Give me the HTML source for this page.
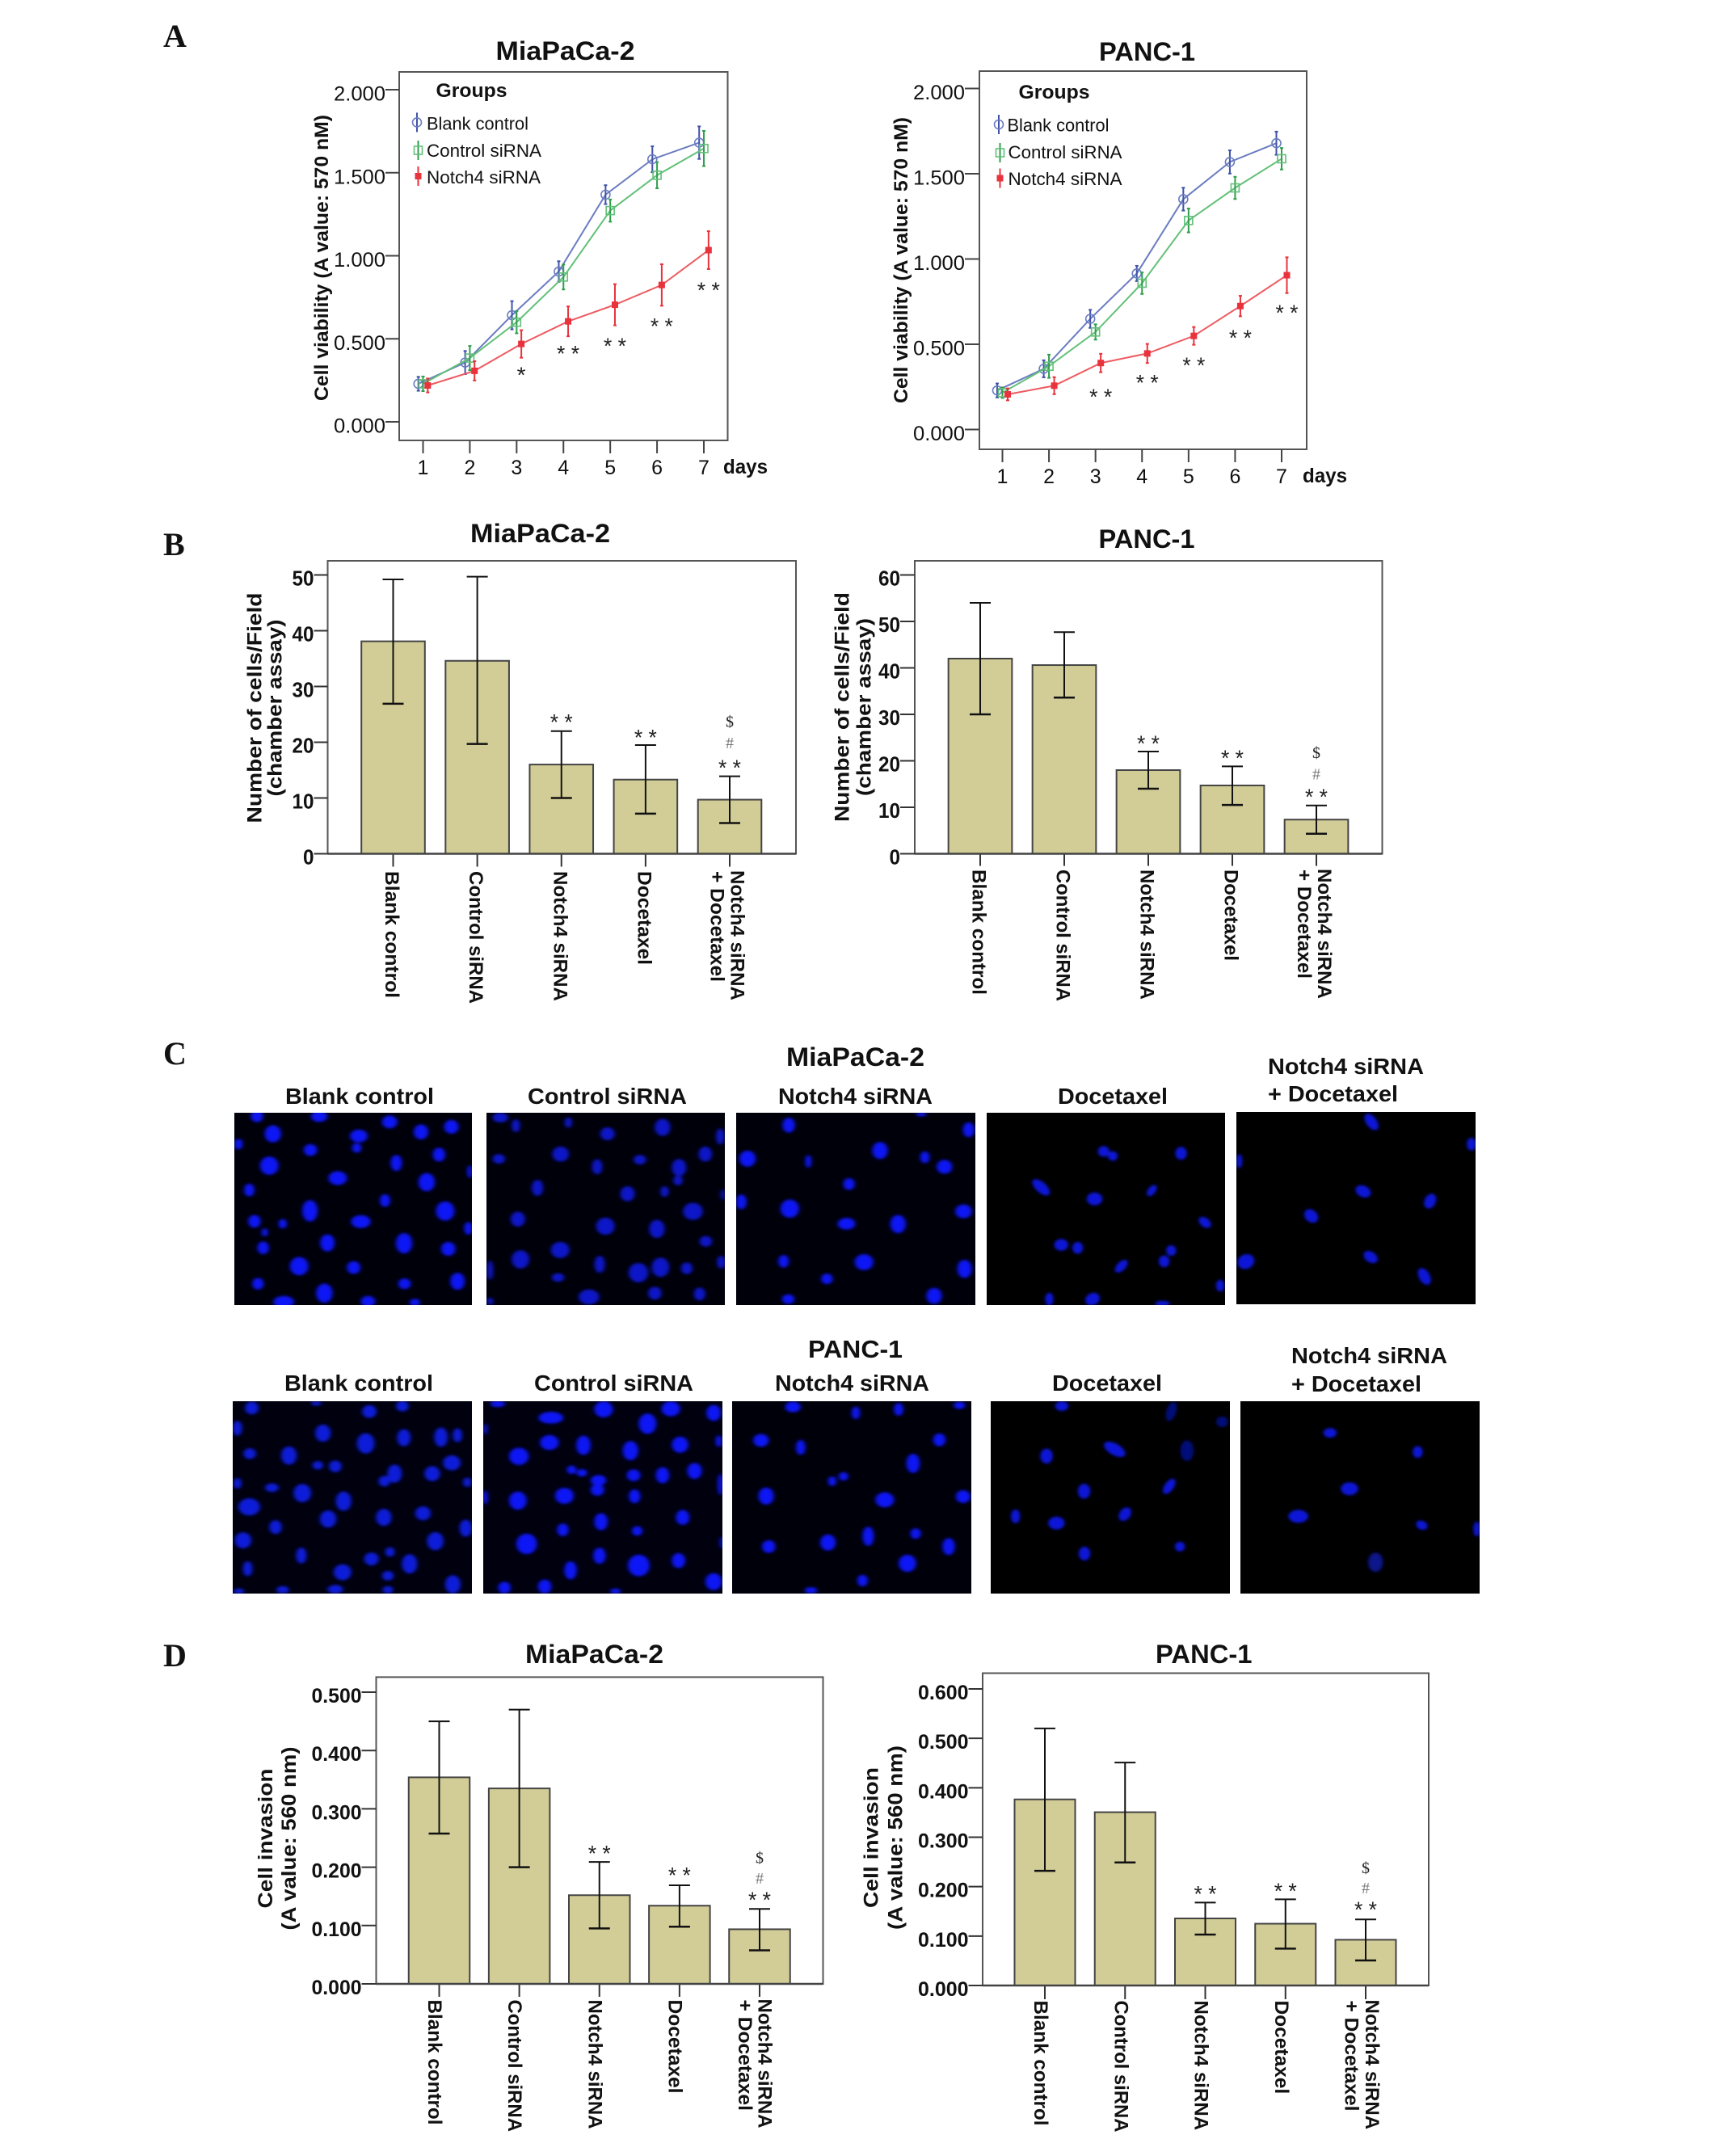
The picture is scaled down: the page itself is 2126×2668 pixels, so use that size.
<!DOCTYPE html>
<html>
<head>
<meta charset="utf-8">
<title>Notch4 siRNA figure</title>
<style>
html,body{margin:0;padding:0;background:#fff;}
svg{display:block;}
text{font-family:"Liberation Sans",sans-serif;fill:#111;}
</style>
</head>
<body>
<svg id="figure" xmlns="http://www.w3.org/2000/svg" width="2126" height="2668" viewBox="0 0 2126 2668">
<defs>
<filter id="b" x="-30%" y="-30%" width="160%" height="160%"><feGaussianBlur stdDeviation="4 5"/></filter>
</defs>
<rect width="2126" height="2668" fill="#fff"/>
<g id="panelC" font-weight="700">
<text x="202" y="1317" font-size="40" style="font-family:'Liberation Serif',serif;font-weight:700">C</text>
<text x="973" y="1319" font-size="32" textLength="171" lengthAdjust="spacingAndGlyphs">MiaPaCa-2</text>
<text x="353" y="1366" font-size="28" textLength="184" lengthAdjust="spacingAndGlyphs">Blank control</text>
<text x="653" y="1366" font-size="28" textLength="197" lengthAdjust="spacingAndGlyphs">Control siRNA</text>
<text x="963" y="1366" font-size="28" textLength="191" lengthAdjust="spacingAndGlyphs">Notch4 siRNA</text>
<text x="1309" y="1366" font-size="28" textLength="136" lengthAdjust="spacingAndGlyphs">Docetaxel</text>
<text x="1569" y="1329" font-size="28" textLength="193" lengthAdjust="spacingAndGlyphs">Notch4 siRNA</text>
<text x="1569" y="1363" font-size="28" textLength="161" lengthAdjust="spacingAndGlyphs">+ Docetaxel</text>
<text x="1000" y="1680" font-size="31" textLength="117" lengthAdjust="spacingAndGlyphs">PANC-1</text>
<text x="352" y="1721" font-size="28" textLength="184" lengthAdjust="spacingAndGlyphs">Blank control</text>
<text x="661" y="1721" font-size="28" textLength="197" lengthAdjust="spacingAndGlyphs">Control siRNA</text>
<text x="959" y="1721" font-size="28" textLength="191" lengthAdjust="spacingAndGlyphs">Notch4 siRNA</text>
<text x="1302" y="1721" font-size="28" textLength="136" lengthAdjust="spacingAndGlyphs">Docetaxel</text>
<text x="1598" y="1687" font-size="28" textLength="193" lengthAdjust="spacingAndGlyphs">Notch4 siRNA</text>
<text x="1598" y="1722" font-size="28" textLength="161" lengthAdjust="spacingAndGlyphs">+ Docetaxel</text>

<svg x="290" y="1377" width="294" height="238" viewBox="172 292 462 712" preserveAspectRatio="none"><rect x="172" y="292" width="462" height="712" fill="#00000a"/><g fill="#0a16f5" filter="url(#b)">
<ellipse cx="216" cy="305" rx="12" ry="22"/><ellipse cx="337" cy="306" rx="16" ry="20"/><ellipse cx="474" cy="326" rx="15" ry="24"/><ellipse cx="535" cy="363" rx="14" ry="28"/><ellipse cx="594" cy="344" rx="14" ry="26"/><ellipse cx="247" cy="370" rx="16" ry="32"/><ellipse cx="414" cy="378" rx="17" ry="24"/><ellipse cx="180" cy="408" rx="8" ry="20"/><ellipse cx="410" cy="422" rx="9" ry="18"/><ellipse cx="320" cy="430" rx="13" ry="22"/><ellipse cx="570" cy="447" rx="12" ry="26"/><ellipse cx="240" cy="488" rx="18" ry="34"/><ellipse cx="487" cy="478" rx="11" ry="30"/><ellipse cx="630" cy="510" rx="5" ry="24"/><ellipse cx="373" cy="534" rx="18" ry="26"/><ellipse cx="546" cy="549" rx="16" ry="34"/><ellipse cx="201" cy="578" rx="10" ry="24"/><ellipse cx="465" cy="617" rx="10" ry="24"/><ellipse cx="319" cy="655" rx="15" ry="40"/><ellipse cx="582" cy="656" rx="18" ry="36"/><ellipse cx="211" cy="694" rx="12" ry="24"/><ellipse cx="266" cy="703" rx="8" ry="18"/><ellipse cx="418" cy="695" rx="19" ry="24"/><ellipse cx="627" cy="720" rx="8" ry="24"/><ellipse cx="231" cy="735" rx="6" ry="16"/><ellipse cx="353" cy="774" rx="14" ry="32"/><ellipse cx="502" cy="775" rx="16" ry="38"/><ellipse cx="588" cy="796" rx="14" ry="26"/><ellipse cx="228" cy="792" rx="11" ry="24"/><ellipse cx="298" cy="860" rx="18" ry="34"/><ellipse cx="404" cy="865" rx="13" ry="24"/><ellipse cx="218" cy="925" rx="11" ry="22"/><ellipse cx="347" cy="960" rx="16" ry="36"/><ellipse cx="503" cy="925" rx="12" ry="20"/><ellipse cx="606" cy="916" rx="14" ry="32"/><ellipse cx="268" cy="992" rx="20" ry="22"/><ellipse cx="432" cy="990" rx="14" ry="20"/><ellipse cx="523" cy="994" rx="10" ry="14"/>
</g></svg>

<svg x="602" y="1377" width="295" height="238" viewBox="661 292 463 712" preserveAspectRatio="none"><rect x="661" y="292" width="463" height="712" fill="#00000a"/><g fill="#0a18c8" filter="url(#b)">
<ellipse cx="688" cy="310" rx="15" ry="18"/><ellipse cx="718" cy="340" rx="8" ry="24"/><ellipse cx="820" cy="328" rx="7" ry="20"/><ellipse cx="1003" cy="346" rx="15" ry="32"/><ellipse cx="896" cy="370" rx="14" ry="24"/><ellipse cx="1115" cy="380" rx="8" ry="30"/><ellipse cx="805" cy="445" rx="16" ry="28"/><ellipse cx="685" cy="463" rx="12" ry="18"/><ellipse cx="1086" cy="445" rx="13" ry="28"/><ellipse cx="959" cy="466" rx="12" ry="18"/><ellipse cx="876" cy="492" rx="10" ry="28"/><ellipse cx="1035" cy="495" rx="14" ry="32"/><ellipse cx="1033" cy="543" rx="9" ry="18"/><ellipse cx="760" cy="570" rx="11" ry="30"/><ellipse cx="935" cy="592" rx="14" ry="28"/><ellipse cx="1007" cy="584" rx="8" ry="20"/><ellipse cx="1120" cy="595" rx="4" ry="20"/><ellipse cx="1062" cy="657" rx="19" ry="32"/><ellipse cx="722" cy="686" rx="14" ry="28"/><ellipse cx="892" cy="712" rx="18" ry="32"/><ellipse cx="992" cy="722" rx="15" ry="34"/><ellipse cx="1087" cy="768" rx="12" ry="20"/><ellipse cx="804" cy="800" rx="18" ry="30"/><ellipse cx="727" cy="835" rx="17" ry="34"/><ellipse cx="881" cy="853" rx="10" ry="32"/><ellipse cx="999" cy="864" rx="17" ry="36"/><ellipse cx="956" cy="884" rx="19" ry="36"/><ellipse cx="1050" cy="868" rx="11" ry="22"/><ellipse cx="1117" cy="845" rx="8" ry="24"/><ellipse cx="668" cy="875" rx="6" ry="36"/><ellipse cx="800" cy="902" rx="12" ry="16"/><ellipse cx="860" cy="974" rx="20" ry="28"/><ellipse cx="988" cy="960" rx="13" ry="24"/><ellipse cx="1075" cy="963" rx="11" ry="24"/><ellipse cx="668" cy="990" rx="6" ry="14"/>
</g></svg>

<svg x="911" y="1377" width="296" height="238" viewBox="1146 292 464 712" preserveAspectRatio="none"><rect x="1146" y="292" width="464" height="712" fill="#00000a"/><g fill="#0a16f5" filter="url(#b)">
<ellipse cx="1248" cy="338" rx="12" ry="28"/><ellipse cx="1505" cy="298" rx="10" ry="8"/><ellipse cx="1425" cy="432" rx="15" ry="32"/><ellipse cx="1168" cy="462" rx="16" ry="30"/><ellipse cx="1286" cy="472" rx="6" ry="24"/><ellipse cx="1512" cy="457" rx="9" ry="22"/><ellipse cx="1550" cy="492" rx="15" ry="26"/><ellipse cx="1365" cy="556" rx="11" ry="22"/><ellipse cx="1156" cy="622" rx="10" ry="28"/><ellipse cx="1250" cy="647" rx="18" ry="34"/><ellipse cx="1360" cy="703" rx="17" ry="22"/><ellipse cx="1460" cy="704" rx="15" ry="34"/><ellipse cx="1238" cy="842" rx="10" ry="24"/><ellipse cx="1394" cy="845" rx="18" ry="30"/><ellipse cx="1322" cy="907" rx="11" ry="20"/><ellipse cx="1247" cy="982" rx="12" ry="18"/><ellipse cx="1530" cy="970" rx="15" ry="30"/><ellipse cx="1597" cy="355" rx="11" ry="28"/><ellipse cx="1587" cy="657" rx="16" ry="26"/><ellipse cx="1589" cy="870" rx="14" ry="34"/>
</g></svg>

<svg x="1221" y="1377" width="295" height="238" viewBox="236 292 579 712" preserveAspectRatio="none"><rect x="236" y="292" width="579" height="712" fill="#000"/><g fill="#0a18d8" filter="url(#b)">
<ellipse cx="520" cy="435" rx="14" ry="20"/><ellipse cx="542" cy="452" rx="12" ry="18"/><ellipse cx="708" cy="442" rx="14" ry="24"/><ellipse cx="368" cy="568" rx="15" ry="34" transform="rotate(-30 368 568)"/><ellipse cx="498" cy="611" rx="19" ry="24"/><ellipse cx="637" cy="580" rx="10" ry="22" transform="rotate(20 637 580)"/><ellipse cx="766" cy="698" rx="13" ry="22" transform="rotate(-25 766 698)"/><ellipse cx="417" cy="781" rx="17" ry="22"/><ellipse cx="457" cy="792" rx="13" ry="22"/><ellipse cx="684" cy="802" rx="12" ry="20"/><ellipse cx="667" cy="842" rx="13" ry="22"/><ellipse cx="563" cy="860" rx="12" ry="26" transform="rotate(25 563 860)"/><ellipse cx="803" cy="932" rx="10" ry="22"/><ellipse cx="388" cy="982" rx="10" ry="24"/><ellipse cx="493" cy="982" rx="17" ry="24" transform="rotate(15 493 982)"/><ellipse cx="663" cy="998" rx="18" ry="10"/>
</g></svg>

<svg x="1530" y="1376" width="296" height="238" viewBox="841 288 579 712" preserveAspectRatio="none"><rect x="841" y="288" width="579" height="712" fill="#000"/><g fill="#0a18d8" filter="url(#b)">
<ellipse cx="1168" cy="325" rx="14" ry="32" transform="rotate(-20 1168 325)"/><ellipse cx="1410" cy="407" rx="11" ry="24"/><ellipse cx="848" cy="470" rx="7" ry="26"/><ellipse cx="1148" cy="582" rx="17" ry="24" transform="rotate(-25 1148 582)"/><ellipse cx="1310" cy="618" rx="14" ry="28" transform="rotate(10 1310 618)"/><ellipse cx="1022" cy="673" rx="16" ry="26" transform="rotate(-15 1022 673)"/><ellipse cx="864" cy="842" rx="20" ry="28" transform="rotate(10 864 842)"/><ellipse cx="1166" cy="825" rx="15" ry="24" transform="rotate(-25 1166 825)"/><ellipse cx="1296" cy="897" rx="14" ry="32" transform="rotate(-15 1296 897)"/>
</g></svg>

<svg x="288" y="1734" width="296" height="238" viewBox="13 222 464 712" preserveAspectRatio="none"><rect x="13" y="222" width="464" height="712" fill="#00000f"/><g fill="#0a1ad8" filter="url(#b)">
<ellipse cx="50" cy="247" rx="13" ry="24"/><ellipse cx="175" cy="230" rx="10" ry="8"/><ellipse cx="278" cy="260" rx="14" ry="24"/><ellipse cx="342" cy="240" rx="12" ry="20"/><ellipse cx="22" cy="322" rx="9" ry="28"/><ellipse cx="188" cy="340" rx="15" ry="32"/><ellipse cx="271" cy="378" rx="17" ry="38"/><ellipse cx="345" cy="357" rx="13" ry="32"/><ellipse cx="417" cy="355" rx="13" ry="36"/><ellipse cx="449" cy="348" rx="9" ry="26"/><ellipse cx="46" cy="416" rx="12" ry="20"/><ellipse cx="122" cy="423" rx="15" ry="34"/><ellipse cx="178" cy="459" rx="10" ry="16"/><ellipse cx="212" cy="463" rx="12" ry="22"/><ellipse cx="438" cy="450" rx="17" ry="28"/><ellipse cx="327" cy="490" rx="14" ry="34"/><ellipse cx="307" cy="518" rx="11" ry="20"/><ellipse cx="400" cy="490" rx="15" ry="28"/><ellipse cx="22" cy="526" rx="8" ry="20"/><ellipse cx="89" cy="542" rx="13" ry="16"/><ellipse cx="148" cy="562" rx="17" ry="34"/><ellipse cx="228" cy="592" rx="15" ry="36"/><ellipse cx="468" cy="522" rx="8" ry="18"/><ellipse cx="45" cy="613" rx="21" ry="32"/><ellipse cx="382" cy="637" rx="15" ry="26"/><ellipse cx="198" cy="658" rx="16" ry="32"/><ellipse cx="306" cy="652" rx="15" ry="32"/><ellipse cx="96" cy="688" rx="12" ry="26"/><ellipse cx="465" cy="692" rx="12" ry="32"/><ellipse cx="33" cy="737" rx="16" ry="30"/><ellipse cx="406" cy="740" rx="16" ry="34"/><ellipse cx="146" cy="793" rx="10" ry="30"/><ellipse cx="318" cy="780" rx="9" ry="18"/><ellipse cx="282" cy="806" rx="14" ry="24"/><ellipse cx="356" cy="824" rx="15" ry="36"/><ellipse cx="42" cy="842" rx="9" ry="28"/><ellipse cx="226" cy="855" rx="17" ry="30"/><ellipse cx="314" cy="868" rx="11" ry="18"/><ellipse cx="440" cy="900" rx="15" ry="34"/><ellipse cx="110" cy="920" rx="12" ry="14"/><ellipse cx="212" cy="918" rx="15" ry="16"/><ellipse cx="314" cy="920" rx="10" ry="14"/><ellipse cx="25" cy="925" rx="10" ry="10"/>
</g></svg>

<svg x="598" y="1734" width="296" height="238" viewBox="499 222 463 712" preserveAspectRatio="none"><rect x="499" y="222" width="463" height="712" fill="#00000f"/><g fill="#0a16f5" filter="url(#b)">
<ellipse cx="527" cy="232" rx="14" ry="12"/><ellipse cx="732" cy="252" rx="18" ry="30"/><ellipse cx="862" cy="250" rx="18" ry="28"/><ellipse cx="945" cy="265" rx="14" ry="30"/><ellipse cx="630" cy="283" rx="24" ry="22"/><ellipse cx="817" cy="305" rx="17" ry="38"/><ellipse cx="503" cy="325" rx="4" ry="20"/><ellipse cx="627" cy="375" rx="18" ry="28"/><ellipse cx="693" cy="385" rx="14" ry="36"/><ellipse cx="880" cy="383" rx="16" ry="30"/><ellipse cx="784" cy="405" rx="15" ry="36"/><ellipse cx="955" cy="370" rx="6" ry="22"/><ellipse cx="568" cy="426" rx="19" ry="32"/><ellipse cx="670" cy="476" rx="9" ry="16"/><ellipse cx="690" cy="487" rx="10" ry="14"/><ellipse cx="908" cy="480" rx="14" ry="30"/><ellipse cx="790" cy="496" rx="13" ry="22"/><ellipse cx="846" cy="496" rx="13" ry="30"/><ellipse cx="722" cy="515" rx="15" ry="20"/><ellipse cx="720" cy="550" rx="13" ry="22"/><ellipse cx="958" cy="530" rx="5" ry="40"/><ellipse cx="503" cy="578" rx="5" ry="26"/><ellipse cx="566" cy="590" rx="17" ry="34"/><ellipse cx="656" cy="572" rx="18" ry="30"/><ellipse cx="792" cy="574" rx="11" ry="26"/><ellipse cx="885" cy="652" rx="13" ry="28"/><ellipse cx="727" cy="668" rx="13" ry="32"/><ellipse cx="653" cy="698" rx="11" ry="24"/><ellipse cx="797" cy="702" rx="10" ry="18"/><ellipse cx="583" cy="750" rx="20" ry="38"/><ellipse cx="960" cy="745" rx="3" ry="22"/><ellipse cx="724" cy="794" rx="12" ry="30"/><ellipse cx="800" cy="830" rx="21" ry="40"/><ellipse cx="877" cy="812" rx="13" ry="28"/><ellipse cx="668" cy="848" rx="12" ry="34"/><ellipse cx="945" cy="890" rx="16" ry="32"/><ellipse cx="540" cy="912" rx="12" ry="22"/><ellipse cx="618" cy="908" rx="13" ry="26"/><ellipse cx="755" cy="925" rx="10" ry="10"/>
</g></svg>

<svg x="906" y="1734" width="296" height="238" viewBox="982 222 464 712" preserveAspectRatio="none"><rect x="982" y="222" width="464" height="712" fill="#00000a"/><g fill="#0a16f5" filter="url(#b)">
<ellipse cx="1100" cy="243" rx="15" ry="20"/><ellipse cx="1222" cy="265" rx="8" ry="24"/><ellipse cx="1305" cy="252" rx="9" ry="24"/><ellipse cx="1423" cy="237" rx="11" ry="14"/><ellipse cx="1038" cy="367" rx="15" ry="24"/><ellipse cx="1115" cy="393" rx="9" ry="28"/><ellipse cx="1384" cy="365" rx="12" ry="24"/><ellipse cx="1333" cy="452" rx="13" ry="36"/><ellipse cx="1198" cy="500" rx="9" ry="16"/><ellipse cx="1176" cy="518" rx="8" ry="18"/><ellipse cx="1430" cy="575" rx="14" ry="24"/><ellipse cx="1048" cy="573" rx="15" ry="32"/><ellipse cx="1278" cy="587" rx="18" ry="28"/><ellipse cx="1338" cy="712" rx="10" ry="20"/><ellipse cx="1246" cy="722" rx="11" ry="36"/><ellipse cx="1168" cy="745" rx="15" ry="30"/><ellipse cx="1053" cy="760" rx="13" ry="24"/><ellipse cx="1402" cy="760" rx="12" ry="32"/><ellipse cx="1322" cy="822" rx="17" ry="32"/><ellipse cx="1235" cy="886" rx="10" ry="22"/><ellipse cx="1135" cy="922" rx="12" ry="12"/>
</g></svg>

<svg x="1226" y="1734" width="296" height="238" viewBox="248 222 579 712" preserveAspectRatio="none"><rect x="248" y="222" width="579" height="712" fill="#000"/><g fill="#0a18d8" filter="url(#b)">
<ellipse cx="420" cy="240" rx="16" ry="18"/><ellipse cx="685" cy="260" rx="12" ry="36" fill="#06107a" transform="rotate(10 685 260)"/><ellipse cx="808" cy="298" rx="14" ry="20" fill="#06107a"/><ellipse cx="548" cy="400" rx="18" ry="34" transform="rotate(-40 548 400)"/><ellipse cx="723" cy="405" rx="16" ry="38" fill="#06107a"/><ellipse cx="383" cy="425" rx="15" ry="28"/><ellipse cx="680" cy="537" rx="12" ry="30" transform="rotate(20 680 537)"/><ellipse cx="474" cy="555" rx="15" ry="28"/><ellipse cx="308" cy="648" rx="11" ry="26"/><ellipse cx="573" cy="640" rx="14" ry="26" transform="rotate(15 573 640)"/><ellipse cx="407" cy="673" rx="20" ry="24"/><ellipse cx="475" cy="786" rx="14" ry="26"/><ellipse cx="706" cy="760" rx="12" ry="18"/>
</g></svg>

<svg x="1535" y="1734" width="296" height="238" viewBox="853 222 579 712" preserveAspectRatio="none"><rect x="853" y="222" width="579" height="712" fill="#000"/><g fill="#0a18d8" filter="url(#b)">
<ellipse cx="1070" cy="339" rx="16" ry="18"/><ellipse cx="1282" cy="410" rx="12" ry="22"/><ellipse cx="1117" cy="546" rx="21" ry="24"/><ellipse cx="993" cy="648" rx="24" ry="24"/><ellipse cx="1292" cy="681" rx="13" ry="18" transform="rotate(-20 1292 681)"/><ellipse cx="1425" cy="695" rx="8" ry="28"/><ellipse cx="1180" cy="818" rx="18" ry="36" fill="#0a128a"/>
</g></svg>
</g>
<g id="charts"></g>
</svg>
<script>
// ---------- Panel A: growth curves ----------
const dayLabels = [1, 2, 3, 4, 5, 6, 7];
const viabilityTicks = [0, 0.5, 1, 1.5, 2];
const viabilityTickLabels = ['0.000', '0.500', '1.000', '1.500', '2.000'];
const groupNames = ['Blank control', 'Control siRNA', 'Notch4 siRNA'];

const miaBlank = [0.229, 0.357, 0.642, 0.905, 1.368, 1.581, 1.681];
const miaBlankErr = [0.042, 0.07, 0.085, 0.062, 0.057, 0.078, 0.098];
const miaControl = [0.229, 0.384, 0.6, 0.872, 1.272, 1.485, 1.646];
const miaControlErr = [0.044, 0.073, 0.067, 0.075, 0.067, 0.079, 0.106];
const miaNotch = [0.219, 0.307, 0.469, 0.605, 0.705, 0.824, 1.034];
const miaNotchErr = [0.042, 0.058, 0.083, 0.09, 0.124, 0.125, 0.114];
const miaSig = ['', '', '*', '* *', '* *', '* *', '* *'];
const miaSigLevel = [0, 0, 0.315, 0.442, 0.488, 0.609, 0.826];

const pancBlank = [0.229, 0.356, 0.649, 0.915, 1.351, 1.569, 1.679];
const pancBlankErr = [0.041, 0.05, 0.053, 0.045, 0.067, 0.068, 0.068];
const pancControl = [0.216, 0.371, 0.572, 0.858, 1.226, 1.417, 1.588];
const pancControlErr = [0.031, 0.068, 0.045, 0.063, 0.07, 0.065, 0.063];
const pancNotch = [0.206, 0.257, 0.39, 0.446, 0.549, 0.724, 0.905];
const pancNotchErr = [0.035, 0.05, 0.054, 0.056, 0.052, 0.06, 0.105];
const pancSig = ['', '', '* *', '* *', '* *', '* *', '* *'];
const pancSigLevel = [0, 0, 0.223, 0.306, 0.407, 0.568, 0.716];

// ---------- Panels B and D: bars ----------
const treatmentNames = ['Blank control', 'Control siRNA', 'Notch4 siRNA', 'Docetaxel', ['Notch4 siRNA', '+ Docetaxel']];
const barSig = ['', '', '* *', '* *', '* *'];

const cellTicksMia = [0, 10, 20, 30, 40, 50];
const cellMeansMia = [38.1, 34.6, 16.0, 13.3, 9.7];
const cellHighMia = [49.2, 49.7, 22, 19.5, 13.9];
const cellLowMia = [26.9, 19.7, 10, 7.2, 5.5];
const cellSigMia = [0, 0, 24.6, 21.8, 16.4];
const cellHashMia = 19.9;
const cellDollarMia = 23.8;

const cellTicksPanc = [0, 10, 20, 30, 40, 50, 60];
const cellMeansPanc = [42, 40.6, 18, 14.7, 7.35];
const cellHighPanc = [54, 47.7, 22, 18.8, 10.4];
const cellLowPanc = [30, 33.6, 14, 10.5, 4.3];
const cellSigPanc = [0, 0, 24.9, 21.7, 13.4];
const cellHashPanc = 17.2;
const cellDollarPanc = 21.8;

const invTicksMia = [0, 0.1, 0.2, 0.3, 0.4, 0.5];
const invTickLabelsMia = ['0.000', '0.100', '0.200', '0.300', '0.400', '0.500'];
const invMeansMia = [0.354, 0.335, 0.152, 0.134, 0.0936];
const invHighMia = [0.45, 0.47, 0.209, 0.169, 0.1285];
const invLowMia = [0.2576, 0.2, 0.095, 0.098, 0.0575];
const invSigMia = [0, 0, 0.233, 0.195, 0.153];
const invHashMia = 0.1815;
const invDollarMia = 0.2165;

const invTicksPanc = [0, 0.1, 0.2, 0.3, 0.4, 0.5, 0.6];
const invTickLabelsPanc = ['0.000', '0.100', '0.200', '0.300', '0.400', '0.500', '0.600'];
const invMeansPanc = [0.3765, 0.3506, 0.1357, 0.125, 0.0925];
const invHighPanc = [0.52, 0.451, 0.1677, 0.1743, 0.1337];
const invLowPanc = [0.232, 0.249, 0.103, 0.0745, 0.0506];
const invSigPanc = [0, 0, 0.196, 0.202, 0.164];
const invHashPanc = 0.198;
const invDollarPanc = 0.239;

const NS = 'http://www.w3.org/2000/svg';
const root = document.getElementById('charts');

function mk(parent, tag, attrs, name) {
  const el = document.createElementNS(NS, tag);
  for (const k in attrs) el.setAttribute(k, attrs[k]);
  
  
  parent.appendChild(el);
  return el;
}
function seg(parent, x1, y1, x2, y2, stroke, w, name) {
  return mk(parent, 'line', { x1: x1, y1: y1, x2: x2, y2: y2, stroke: stroke, 'stroke-width': w }, name);
}
function label(parent, str, x, y, o, name) {
  const attrs = { x: x, y: y, 'font-size': o.size, 'text-anchor': o.anchor || 'start' };
  if (o.bold) attrs['font-weight'] = '700';
  if (o.len) { attrs.textLength = o.len; attrs.lengthAdjust = 'spacingAndGlyphs'; }
  if (o.rot) attrs.transform = 'rotate(' + o.rot + ' ' + x + ' ' + y + ')';
  const t = mk(parent, 'text', attrs, name);
  if (o.serif) t.style.fontFamily = '"Liberation Serif",serif';
  if (o.fill) t.style.fill = o.fill;
  t.textContent = str;
  return t;
}
function stars(parent, str, x, cy, name) {
  if (!str) return;
  label(parent, str, x, cy + 16, { size: 28, anchor: 'middle', fill: '#222', len: str.length > 1 ? 28 : 0 }, name);
}

const lineStyles = [
  { line: '#6a7cc0', err: '#3f52a8', kind: 'circle' },
  { line: '#62c078', err: '#2f9f4c', kind: 'square' },
  { line: '#ee5a60', err: '#e8323c', kind: 'cross' }
];
function marker(parent, x, y, kind, st, name) {
  if (kind === 'circle') mk(parent, 'circle', { cx: x, cy: y, r: 5.5, fill: 'none', stroke: st.line, 'stroke-width': 1.6 }, name);
  else if (kind === 'square') mk(parent, 'rect', { x: x - 5, y: y - 5, width: 10, height: 10, fill: 'none', stroke: st.line, 'stroke-width': 1.6 }, name);
  else mk(parent, 'rect', { x: x - 4, y: y - 4, width: 8, height: 8, fill: st.err }, name);
}
function drawLineChart(c, values, errs, sig, sigLevel) {
  const g = mk(root, 'g', {}, c.name);
  const yS = v => c.y0 - v * (c.y0 - c.y2) / 2;
  const xS = d => c.x1 + (d - 1) * (c.x7 - c.x1) / 6;
  label(g, c.title, c.titleX, c.titleY, { size: 32, bold: true, len: c.titleLen }, 'chart-title');
  mk(g, 'rect', { x: c.left, y: c.top, width: c.right - c.left, height: c.bottom - c.top, fill: 'none', stroke: '#555', 'stroke-width': 2 }, 'plot-frame');
  viabilityTicks.forEach((v, i) => {
    seg(g, c.tickL, yS(v), c.left, yS(v), '#444', 2, 'y-tick');
    label(g, viabilityTickLabels[i], c.tickL, yS(v) + 13.5, { size: 25, anchor: 'end', len: 64 }, 'y-tick-label');
  });
  dayLabels.forEach(d => {
    seg(g, xS(d), c.bottom, xS(d), c.tickB, '#444', 2, 'x-tick');
    label(g, String(d), xS(d), c.xLabelY, { size: 25, anchor: 'middle' }, 'x-tick-label');
  });
  label(g, 'days', c.daysX, c.xLabelY - 1, { size: 25, bold: true, len: 55 }, 'x-axis-unit');
  label(g, 'Cell viability (A value: 570 nM)', c.yTitleX, c.yTitleY, { size: 24, bold: true, anchor: 'middle', rot: -90, len: 354 }, 'y-axis-title');
  label(g, 'Groups', c.groupsX, c.groupsY, { size: 24, bold: true, len: 88 }, 'legend-title');
  groupNames.forEach((nm, i) => {
    const st = lineStyles[i];
    const m = c.legend[i];
    seg(g, m.mx, m.my - 12, m.mx, m.my + 12, st.err, 2, 'legend-error-bar');
    marker(g, m.mx, m.my, st.kind, st, 'legend-marker');
    label(g, nm, m.tx, m.ty, { size: 22, len: m.len }, 'legend-entry');
  });
  values.forEach((series, s) => {
    const st = lineStyles[s];
    const off = (s - 1) * c.dodge;
    const pts = series.map((v, i) => (xS(dayLabels[i]) + off) + ',' + yS(v)).join(' ');
    mk(g, 'polyline', { points: pts, fill: 'none', stroke: st.line, 'stroke-width': 2 }, 'series-line-' + s);
    series.forEach((v, i) => {
      const x = xS(dayLabels[i]) + off;
      const hi = yS(v + errs[s][i]), lo = yS(v - errs[s][i]);
      seg(g, x, hi, x, lo, st.err, 2, 'error-bar');
      seg(g, x - 2, hi, x + 2, hi, st.err, 2, 'error-cap');
      seg(g, x - 2, lo, x + 2, lo, st.err, 2, 'error-cap');
      marker(g, x, yS(v), st.kind, st, 'data-point');
    });
  });
  sig.forEach((str, i) => stars(g, str, xS(dayLabels[i]) + c.dodge, yS(sigLevel[i]), 'significance-stars'));
}
drawLineChart({
  name: 'chart-a-miapaca', title: 'MiaPaCa-2', titleX: 613.5, titleY: 74, titleLen: 172,
  left: 494, right: 900.5, top: 89, bottom: 545, tickL: 477, tickB: 561,
  y0: 522, y2: 111, x1: 523.5, x7: 871, dodge: 5.8, xLabelY: 587, daysX: 895,
  yTitleX: 406, yTitleY: 319, groupsX: 539.5, groupsY: 120,
  legend: [
    { mx: 516, my: 151.4, tx: 528, ty: 160.6, len: 126 },
    { mx: 517.5, my: 186, tx: 528, ty: 194, len: 142 },
    { mx: 517.5, my: 218, tx: 528, ty: 227, len: 141 }
  ]
}, [miaBlank, miaControl, miaNotch], [miaBlankErr, miaControlErr, miaNotchErr], miaSig, miaSigLevel);
drawLineChart({
  name: 'chart-a-panc', title: 'PANC-1', titleX: 1360, titleY: 75, titleLen: 119,
  left: 1212, right: 1617, top: 88, bottom: 556, tickL: 1194, tickB: 572,
  y0: 531.5, y2: 109.5, x1: 1240.5, x7: 1586, dodge: 6.5, xLabelY: 598, daysX: 1612,
  yTitleX: 1123, yTitleY: 322, groupsX: 1260.5, groupsY: 122,
  legend: [
    { mx: 1236, my: 154, tx: 1246.5, ty: 162.5, len: 126 },
    { mx: 1237.5, my: 189, tx: 1247.5, ty: 196, len: 141 },
    { mx: 1237.5, my: 220.5, tx: 1247.5, ty: 229, len: 141 }
  ]
}, [pancBlank, pancControl, pancNotch], [pancBlankErr, pancControlErr, pancNotchErr], pancSig, pancSigLevel);

function drawBarChart(c, ticks, tickLabels, means, high, low, sig, hash, dollar) {
  const g = mk(root, 'g', {}, c.name);
  const maxT = ticks[ticks.length - 1];
  const yS = v => c.y0 - v * (c.y0 - c.yMax) / maxT;
  const xS = i => c.c0 + i * (c.c4 - c.c0) / 4;
  label(g, c.title, c.titleX, c.titleY, { size: 32, bold: true, len: c.titleLen }, 'chart-title');
  mk(g, 'rect', { x: c.left, y: c.top, width: c.right - c.left, height: c.y0 - c.top, fill: 'none', stroke: '#555', 'stroke-width': 2 }, 'plot-frame');
  ticks.forEach((v, i) => {
    seg(g, c.tickL, yS(v), c.left, yS(v), '#333', 2, 'y-tick');
    label(g, tickLabels[i], c.tickL, yS(v) + 13, { size: c.tickSize, bold: true, anchor: 'end', len: tickLabels[i].length * c.tickCh }, 'y-tick-label');
  });
  means.forEach((v, i) => {
    const x = xS(i);
    mk(g, 'rect', { x: x - c.barW / 2, y: yS(v), width: c.barW, height: c.y0 - yS(v), fill: '#d2cd97', stroke: '#444', 'stroke-width': 2 }, 'bar-' + i);
    seg(g, x, yS(high[i]), x, yS(low[i]), '#111', 2, 'error-bar');
    seg(g, x - 13, yS(high[i]), x + 13, yS(high[i]), '#111', 2, 'error-cap-high');
    seg(g, x - 13, yS(low[i]), x + 13, yS(low[i]), '#111', 2.5, 'error-cap-low');
    seg(g, x, c.y0, x, c.tickB, '#333', 2, 'x-tick');
    stars(g, sig[i] ? barSig[i] : '', x, yS(sig[i]), 'significance-stars');
    const nm = treatmentNames[i];
    if (Array.isArray(nm)) {
      label(g, nm[0], x + c.line1, c.catY, { size: 24, bold: true, rot: 90, len: c.catLen[2] }, 'category-label');
      label(g, nm[1], x + c.line2, c.catY + 1, { size: 24, bold: true, rot: 90, len: c.catLen[4] }, 'category-label');
    } else {
      label(g, nm, x + c.catOff, c.catY + 1, { size: 24, bold: true, rot: 90, len: c.catLen[i] }, 'category-label');
    }
  });
  seg(g, c.left, c.y0, c.right, c.y0, '#444', 2.5, 'x-axis-line');
  const last = xS(4);
  label(g, '#', last, yS(hash) + 7, { size: 20, serif: true, anchor: 'middle', fill: '#777' }, 'hash-marker');
  label(g, '$', last, yS(dollar) + 7, { size: 20, serif: true, anchor: 'middle', fill: '#222' }, 'dollar-marker');
  label(g, c.yTitle[0], c.yTitleX[0], c.yTitleY, { size: 25, bold: true, anchor: 'middle', rot: -90, len: c.yTitleLen[0] }, 'y-axis-title');
  label(g, c.yTitle[1], c.yTitleX[1], c.yTitleY, { size: 25, bold: true, anchor: 'middle', rot: -90, len: c.yTitleLen[1] }, 'y-axis-title-line2');
}
const cellTickLabelsMia = cellTicksMia.map(String);
const cellTickLabelsPanc = cellTicksPanc.map(String);
drawBarChart({
  name: 'chart-b-miapaca', title: 'MiaPaCa-2', titleX: 582, titleY: 671, titleLen: 173,
  left: 405.5, right: 985, top: 694, y0: 1056.5, yMax: 711.5, tickL: 388.5, tickB: 1072.5,
  c0: 486.5, c4: 903, barW: 78.6, tickSize: 26, tickCh: 13.5,
  catY: 1077, catOff: -9.5, line1: 1.6, line2: -23.4, catLen: [157, 164, 161, 116, 137],
  yTitle: ['Number of cells/Field', '(chamber assay)'], yTitleX: [323.5, 348.5], yTitleY: 876, yTitleLen: [285, 219]
}, cellTicksMia, cellTickLabelsMia, cellMeansMia, cellHighMia, cellLowMia, cellSigMia, cellHashMia, cellDollarMia);
drawBarChart({
  name: 'chart-b-panc', title: 'PANC-1', titleX: 1359.5, titleY: 678, titleLen: 119,
  left: 1132, right: 1710.5, top: 694, y0: 1056.5, yMax: 711.5, tickL: 1114, tickB: 1071.5,
  c0: 1213, c4: 1629, barW: 78.7, tickSize: 26, tickCh: 13.5,
  catY: 1075, catOff: -9.5, line1: 2, line2: -23, catLen: [155, 163, 161, 113, 135],
  yTitle: ['Number of cells/Field', '(chamber assay)'], yTitleX: [1050.5, 1077.5], yTitleY: 875, yTitleLen: [284, 220]
}, cellTicksPanc, cellTickLabelsPanc, cellMeansPanc, cellHighPanc, cellLowPanc, cellSigPanc, cellHashPanc, cellDollarPanc);
drawBarChart({
  name: 'chart-d-miapaca', title: 'MiaPaCa-2', titleX: 650, titleY: 2058, titleLen: 171,
  left: 465.5, right: 1018.5, top: 2075.4, y0: 2455, yMax: 2094, tickL: 447.5, tickB: 2471,
  c0: 543.5, c4: 940, barW: 75.5, tickSize: 25, tickCh: 12.4,
  catY: 2473.5, catOff: -13.5, line1: -1.5, line2: -26, catLen: [155, 163.5, 160, 116, 137.4],
  yTitle: ['Cell invasion', '(A value: 560 nm)'], yTitleX: [337, 366], yTitleY: 2275, yTitleLen: [173, 227]
}, invTicksMia, invTickLabelsMia, invMeansMia, invHighMia, invLowMia, invSigMia, invHashMia, invDollarMia);
drawBarChart({
  name: 'chart-d-panc', title: 'PANC-1', titleX: 1430, titleY: 2058, titleLen: 119.5,
  left: 1216, right: 1768, top: 2070.5, y0: 2457, yMax: 2090, tickL: 1198.5, tickB: 2474,
  c0: 1293, c4: 1690, barW: 75, tickSize: 25, tickCh: 12.5,
  catY: 2474.5, catOff: -13, line1: 0, line2: -25.6, catLen: [155, 163, 160.7, 115.7, 137],
  yTitle: ['Cell invasion', '(A value: 560 nm)'], yTitleX: [1086.5, 1116.5], yTitleY: 2274, yTitleLen: [174, 228]
}, invTicksPanc, invTickLabelsPanc, invMeansPanc, invHighPanc, invLowPanc, invSigPanc, invHashPanc, invDollarPanc);

const letterA = label(root, 'A', 202, 58, { size: 40, bold: true, serif: true }, 'panel-letter-a');
const letterB = label(root, 'B', 202, 687, { size: 40, bold: true, serif: true }, 'panel-letter-b');
const letterD = label(root, 'D', 202, 2062, { size: 40, bold: true, serif: true }, 'panel-letter-d');
</script>
</body>
</html>
